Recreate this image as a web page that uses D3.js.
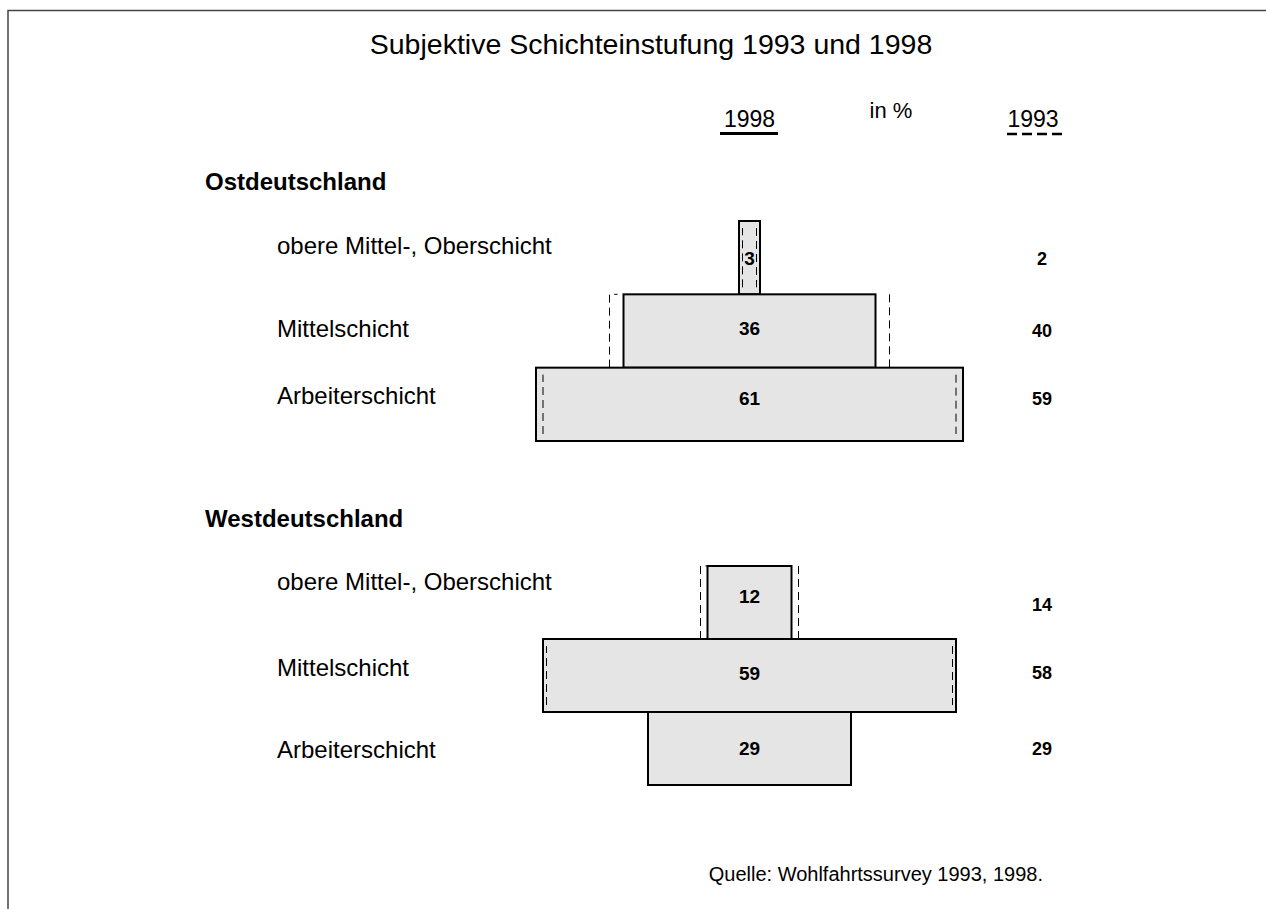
<!DOCTYPE html>
<html>
<head>
<meta charset="utf-8">
<script src="https://cdn.jsdelivr.net/npm/d3@7"></script>
<style>
  body { margin: 0; background: #fff; }
  text { font-family: "Liberation Sans", Arial, sans-serif; fill: #000; }
</style>
</head>
<body>
<div id="chart"></div>
<script>
// categories and values (percent)
const groups = ["Ostdeutschland", "Westdeutschland"];
const categories = ["obere Mittel-, Oberschicht", "Mittelschicht", "Arbeiterschicht"];
const ost1998 = [3, 36, 61];
const ost1993 = [2, 40, 59];
const west1998 = [12, 59, 29];
const west1993 = [14, 58, 29];
const legendYears = ["1998", "1993"];

const width = 1266, height = 909;
const cx = 749.5;

const svg = d3.select("#chart").append("svg")
  .attr("width", width)
  .attr("height", height);

// frame (top and left only)
svg.append("path")
  .attr("d", `M8,${height} L8,10.5 L${width},10.5`)
  .attr("fill", "none")
  .attr("stroke", "#444")
  .attr("stroke-width", 1.5);

svg.append("text")
  .attr("x", 651).attr("y", 54)
  .attr("text-anchor", "middle")
  .style("font-size", "28.5px")
  .text("Subjektive Schichteinstufung 1993 und 1998");

// header
svg.append("text").attr("x", cx).attr("y", 127).attr("text-anchor", "middle")
  .style("font-size", "23px").text(legendYears[0]);
svg.append("line").attr("x1", 720).attr("x2", 778).attr("y1", 133.5).attr("y2", 133.5)
  .attr("stroke", "#000").attr("stroke-width", 3);
svg.append("text").attr("x", 891).attr("y", 118).attr("text-anchor", "middle")
  .style("font-size", "22px").text("in %");
svg.append("text").attr("x", 1033).attr("y", 127).attr("text-anchor", "middle")
  .style("font-size", "23px").text(legendYears[1]);
svg.append("line").attr("x1", 1007).attr("x2", 1064).attr("y1", 134).attr("y2", 134)
  .attr("stroke", "#000").attr("stroke-width", 2.5).attr("stroke-dasharray", "10,5");

const x = d3.scaleLinear().domain([-50, 50]).range([cx - 350, cx + 350]);

// baseline nudges of the texts relative to the middle of each row
const panels = [
  { name: groups[0], v98: ost1998, v93: ost1993, titleY: 190, rows: [221, 441],
    catOff: [-4, 5.5, 0], v98Off: [7, 3.5, 0.5], v93Off: [7, 5.5, 0.5] },
  { name: groups[1], v98: west1998, v93: west1993, titleY: 527, rows: [566, 785],
    catOff: [-12.5, 0.5, 9.5], v98Off: [0.5, 4.5, 6.5], v93Off: [8.5, 3.5, 6.5] }
];

panels.forEach(p => {
  const y = d3.scaleBand().domain(categories).range(p.rows).padding(0);
  const mid = d => y(d.cat) + y.bandwidth() / 2;
  const g = svg.append("g");
  const data = categories.map((c, i) => ({ cat: c, v98: p.v98[i], v93: p.v93[i], i: i }));

  g.append("text").attr("x", 205).attr("y", p.titleY)
    .style("font-size", "24px").style("font-weight", "bold").text(p.name);

  g.selectAll("text.cat").data(data).enter().append("text")
    .attr("class", "cat")
    .attr("x", 277)
    .attr("y", d => mid(d) + p.catOff[d.i])
    .style("font-size", "24px")
    .text(d => d.cat);

  // 1998 bars
  g.selectAll("rect.bar").data(data).enter().append("rect")
    .attr("class", "bar")
    .attr("x", d => x(-d.v98 / 2))
    .attr("width", d => x(d.v98 / 2) - x(-d.v98 / 2))
    .attr("y", d => y(d.cat))
    .attr("height", y.bandwidth())
    .attr("fill", "#e5e5e5")
    .attr("stroke", "#000")
    .attr("stroke-width", 2);

  // 1993 dashed outlines
  data.forEach(d => {
    const x0 = x(-d.v93 / 2), x1 = x(d.v93 / 2);
    const inside = d.v93 < d.v98;
    const top = y(d.cat) + (inside ? 7 : 0);
    const bot = y(d.cat) + y.bandwidth() - (inside ? 7 : 0);
    g.append("path")
      .attr("d", `M${x0},${bot} L${x0},${top}` + (inside ? "" : ` L${x0 + 8},${top}`) + ` M${x1},${top} L${x1},${bot}`)
      .attr("fill", "none")
      .attr("stroke", "#000")
      .attr("stroke-width", 1)
      .attr("stroke-dasharray", "8,5");
  });

  g.selectAll("text.v98").data(data).enter().append("text")
    .attr("class", "v98")
    .attr("x", cx)
    .attr("y", d => mid(d) + p.v98Off[d.i])
    .attr("text-anchor", "middle")
    .style("font-size", "19px").style("font-weight", "bold")
    .text(d => d.v98);

  g.selectAll("text.v93").data(data).enter().append("text")
    .attr("class", "v93")
    .attr("x", 1042)
    .attr("y", d => mid(d) + p.v93Off[d.i])
    .attr("text-anchor", "middle")
    .style("font-size", "18px").style("font-weight", "bold")
    .text(d => d.v93);
});

svg.append("text").attr("x", 1043).attr("y", 881).attr("text-anchor", "end")
  .style("font-size", "20px").text("Quelle: Wohlfahrtssurvey 1993, 1998.");
</script>
</body>
</html>
